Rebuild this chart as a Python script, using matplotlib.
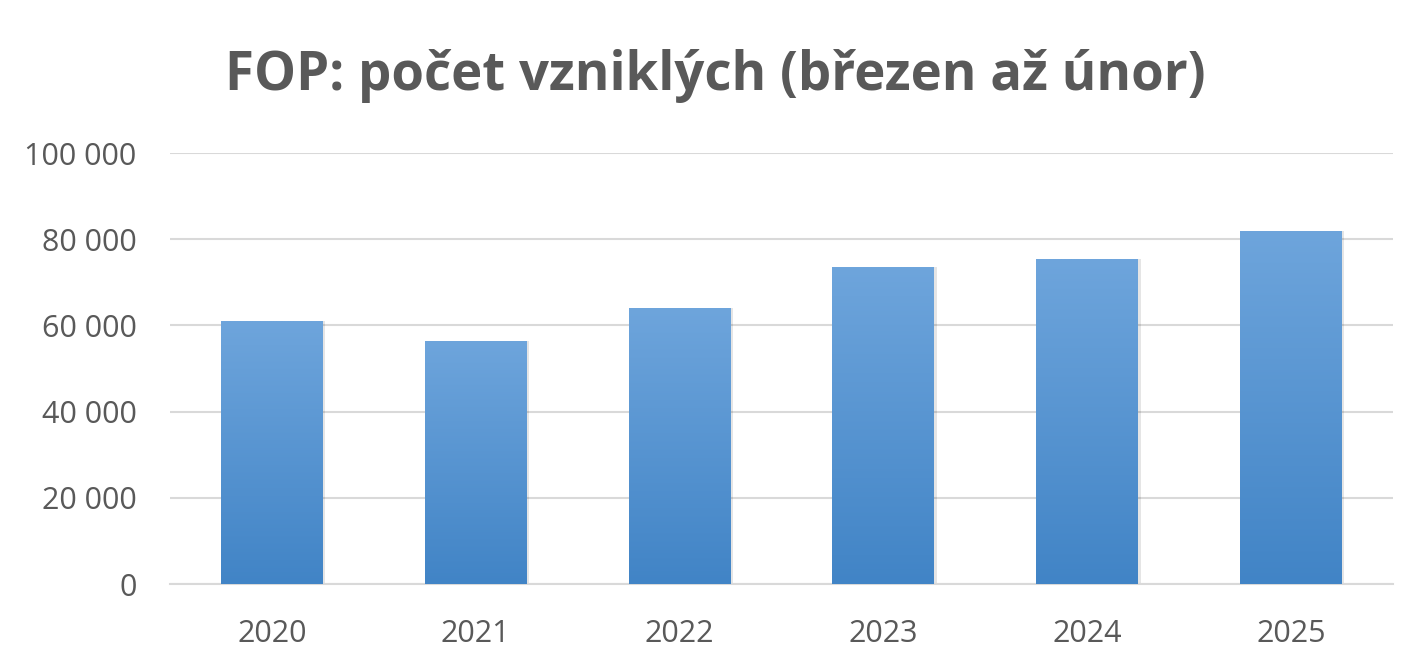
import numpy as np
import matplotlib
matplotlib.use('Agg')
import matplotlib.pyplot as plt
from matplotlib.colors import LinearSegmentedColormap
from matplotlib.ticker import FuncFormatter

years = ['2020', '2021', '2022', '2023', '2024', '2025']
counts = [61000, 56500, 64100, 73500, 75300, 82000]
title = 'FOP: počet vzniklých (březen až únor)'

plt.rcParams['font.family'] = ['Open Sans', 'DejaVu Sans']
grey = '#595959'

fig = plt.figure(figsize=(14.22, 6.67), dpi=100)
ax = fig.add_axes([0.1195, 0.1244, 0.8601, 0.6462])

x = np.arange(len(years))
bars = ax.bar(x, counts, width=0.5, color='none', zorder=3)

# vertical gradient inside each bar (light on top, darker at bottom)
cmap = LinearSegmentedColormap.from_list('bar', ['#4184c6', '#6ea5dc'])
grad = np.linspace(0, 1, 256).reshape(-1, 1)
for b in bars:
    x0, w, h = b.get_x(), b.get_width(), b.get_height()
    # soft shadow
    ax.bar(x0 + w / 2 + 0.012, h, width=w, color='#000000', alpha=0.1,
           zorder=2, linewidth=0)
    im = ax.imshow(grad, cmap=cmap, origin='lower', aspect='auto',
                   extent=[x0, x0 + w, 0, h], zorder=3)
    im.set_clip_path(b)

ax.set_xlim(-0.5, len(years) - 0.5)
ax.set_ylim(0, 100000)
ax.set_yticks(np.arange(0, 100001, 20000))
ax.yaxis.set_major_formatter(FuncFormatter(lambda v, p: f'{int(v):,}'.replace(',', ' ')))
ax.set_xticks(x)
ax.set_xticklabels(years)

ax.grid(axis='y', color='#d9d9d9', linewidth=1.5, zorder=0)
ax.set_axisbelow(True)
for s in ['top', 'right', 'left']:
    ax.spines[s].set_visible(False)
ax.spines['bottom'].set_color('#d9d9d9')
ax.spines['bottom'].set_linewidth(1.5)
ax.tick_params(axis='both', length=0, labelsize=22, labelcolor=grey)
ax.tick_params(axis='y', pad=24)
ax.tick_params(axis='x', pad=25)

fig.text(0.503, 0.886, title, ha='center', va='center', fontsize=38,
         fontweight='bold', color=grey)

fig.savefig('out.png', dpi=100)
